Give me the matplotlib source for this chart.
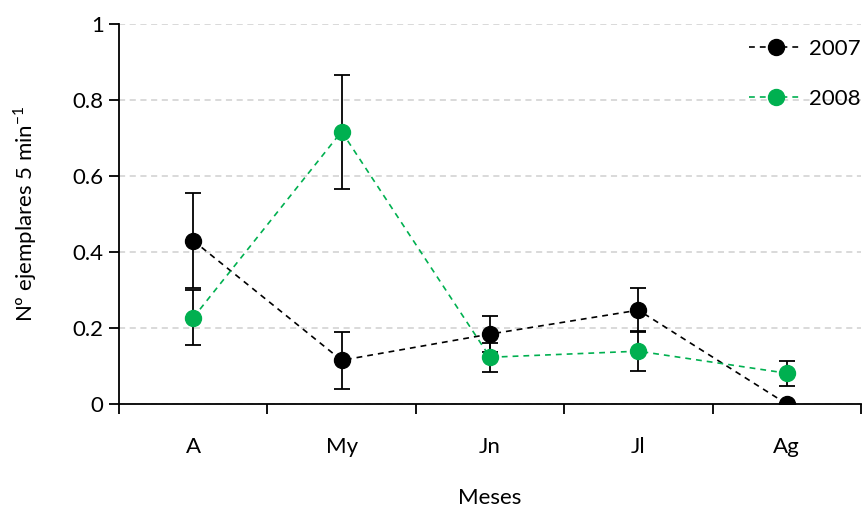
import numpy as np
import matplotlib.pyplot as plt

plt.rcParams['font.family'] = ['Lato', 'DejaVu Sans']

meses = ['A', 'My', 'Jn', 'Jl', 'Ag']
v2007 = [0.43, 0.115, 0.184, 0.247, 0.0]
e2007 = [0.124, 0.075, 0.048, 0.058, 0.0]
v2008 = [0.227, 0.717, 0.123, 0.139, 0.081]
e2008 = [0.072, 0.15, 0.038, 0.052, 0.033]

verde = '#00B050'
x = np.arange(len(meses))

fig = plt.figure(figsize=(8.65, 5.11), dpi=100)
ax = fig.add_axes([119 / 865, 1 - 404 / 511, (861 - 119) / 865, (404 - 24) / 511])

# barras de error (negras en ambas series)
ax.errorbar(x, v2007, yerr=e2007, fmt='none', ecolor='black', elinewidth=1.3,
            capsize=5.5, capthick=1.3, zorder=3)
ax.errorbar(x, v2008, yerr=e2008, fmt='none', ecolor='black', elinewidth=1.3,
            capsize=5.5, capthick=1.3, zorder=3)

ax.plot(x, v2007, '--o', color='black', lw=1.2, ms=11.5, dashes=(3.5, 3),
        label='2007', zorder=4)
ax.plot(x, v2008, '--o', color=verde, lw=1.2, ms=11.5, dashes=(3.5, 3),
        label='2008', zorder=4)

ax.set_xlim(-0.5, len(meses) - 0.5)
ax.set_ylim(0, 1)
ax.set_yticks([0, 0.2, 0.4, 0.6, 0.8, 1])
ax.set_yticklabels(['0', '0.2', '0.4', '0.6', '0.8', '1'])
ax.set_xticks(x)
ax.set_xticklabels(meses)
ax.set_xticks(np.arange(-0.5, len(meses)), minor=True)
ax.tick_params(axis='x', which='major', length=0, pad=24, labelsize=16)
ax.tick_params(axis='x', which='minor', length=7, width=1.3, direction='out')
ax.tick_params(axis='y', length=7, width=1.3, labelsize=16, pad=4)

ax.yaxis.grid(True, color='#d0d0d0', ls=(0, (4, 3)), lw=1.1)
ax.set_axisbelow(True)
for s in ['top', 'right']:
    ax.spines[s].set_visible(False)
for s in ['left', 'bottom']:
    ax.spines[s].set_linewidth(1.3)

ax.set_xlabel('Meses', fontsize=16, labelpad=22)
ax.set_ylabel('Nº ejemplares 5 min$^{\\mathregular{-1}}$', fontsize=16, labelpad=24)

leg = ax.legend(loc='upper right', frameon=False, fontsize=16, handlelength=2.4,
                labelspacing=1.35, handletextpad=0.3, borderpad=0.0,
                borderaxespad=0.0, bbox_to_anchor=(1.0, 0.96))

fig.savefig('out.png', dpi=100)
